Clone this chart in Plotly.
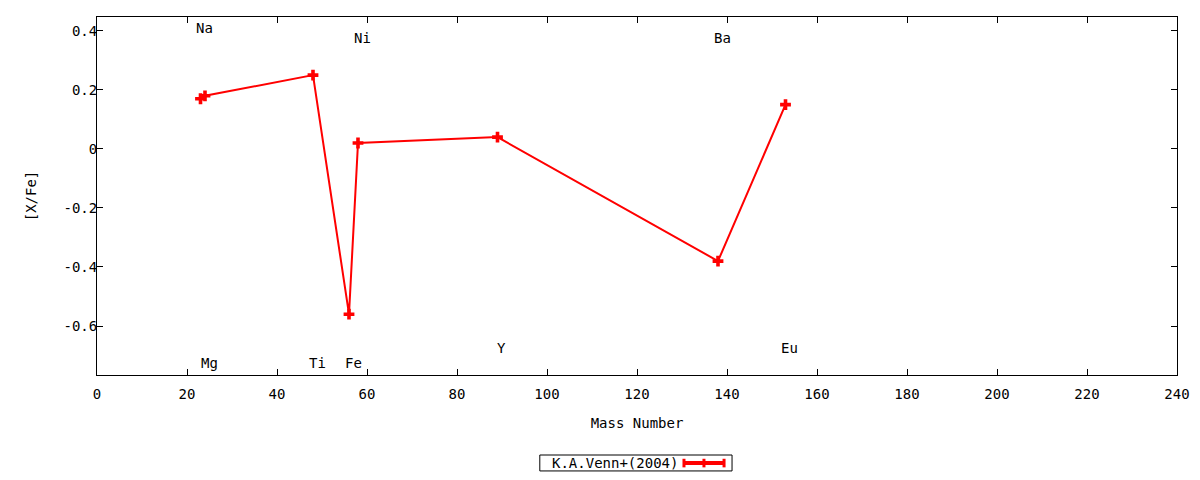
import plotly.graph_objects as go

# abundance ratios vs. mass number
elements = ["Na", "Mg", "Ti", "Fe", "Ni", "Y", "Ba", "Eu"]
mass_number = [23, 24, 48, 56, 58, 89, 138, 153]
x_fe = [0.17, 0.18, 0.25, -0.56, 0.02, 0.04, -0.38, 0.15]
# height at which each element name is written
label_y = [0.41, -0.725, -0.725, -0.725, 0.375, -0.675, 0.375, -0.675]

y_ticks = [0.4, 0.2, 0, -0.2, -0.4, -0.6]
y_tick_text = ["0.4", "0.2", "0", "-0.2", "-0.4", "-0.6"]
x_ticks = list(range(0, 241, 20))

series_name = "K.A.Venn+(2004)"
red = "#ff0000"
font = dict(family="DejaVu Sans Mono", size=14, color="black")

fig = go.Figure()
fig.add_trace(go.Scatter(
    x=mass_number, y=x_fe, mode="lines+markers",
    name=series_name, showlegend=False,
    line=dict(color=red, width=2),
    marker=dict(symbol="cross", size=9, color=red),
))

for el, m, ly in zip(elements, mass_number, label_y):
    fig.add_annotation(x=m, y=ly, text=el, showarrow=False, xshift=4,
                       font=font)

# gnuplot-style key below the plot: title on the left, sample on the right
ky = -0.246
fig.add_shape(type="rect", xref="paper", yref="paper",
              x0=0.410, x1=0.588, y0=-0.268, y1=-0.2235,
              line=dict(color="black", width=1), fillcolor="white", layer="below")
fig.add_annotation(xref="paper", yref="paper", x=0.5395, y=ky, text=series_name,
                   showarrow=False, xanchor="right", yanchor="middle", font=font)
fig.add_shape(type="line", xref="paper", yref="paper",
              x0=0.5435, x1=0.5806, y0=ky, y1=ky, line=dict(color=red, width=4))
for kx in [0.5435, 0.562, 0.5806]:
    fig.add_shape(type="line", xref="paper", yref="paper",
                  x0=kx, x1=kx, y0=ky - 0.012, y1=ky + 0.012,
                  line=dict(color=red, width=3))

axis_style = dict(showline=True, linecolor="black", linewidth=1, mirror="ticks",
                  ticks="inside", ticklen=6, tickcolor="black", automargin=False,
                  showgrid=False, zeroline=False, tickfont=font)

# the page has an 8px body margin, so the figure is a bit smaller than the window
fig.update_layout(
    width=1184, height=464,
    plot_bgcolor="white", paper_bgcolor="white",
    margin=dict(l=89, r=15, t=9, b=97),
    font=font,
    showlegend=False,
    xaxis=dict(range=[0, 240], tickvals=x_ticks, ticklabelstandoff=6,
               title=dict(text="Mass Number", font=font, standoff=17), **axis_style),
    yaxis=dict(range=[-0.766, 0.447], tickvals=y_ticks, ticktext=y_tick_text,
               ticklabelstandoff=-4,
               title=dict(text="[X/Fe]", font=font, standoff=23), **axis_style),
)

fig.write_html("out.html")
